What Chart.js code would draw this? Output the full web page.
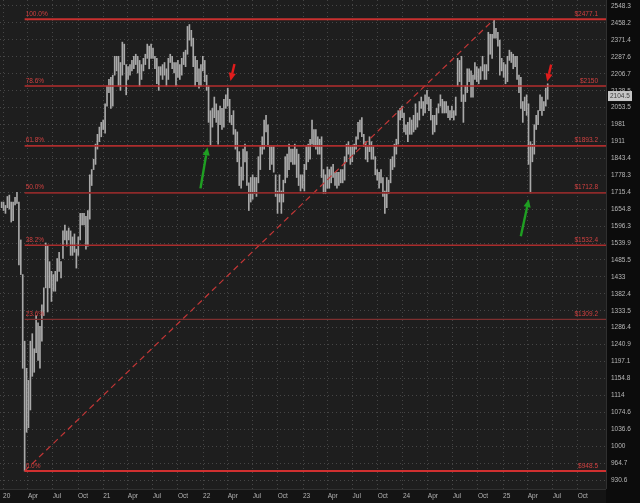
<!DOCTYPE html>
<html lang="en">
<head>
<meta charset="UTF-8" />
<title>Weekly bars with Fibonacci retracement</title>
<script src="https://cdn.jsdelivr.net/npm/chart.js@4.4.1/dist/chart.umd.min.js"></script>
<style>
  html, body { margin: 0; padding: 0; background: #0e0e0e; }
</style>
</head>
<body>
<canvas id="priceChart" width="640" height="503"></canvas>
<script>
// one bar per week, the first one is the week ending 2019-12-27
const firstFriday = '2019-12-27';

const weekHigh = [
  1680,
  // 2020
  1680, 1668, 1700, 1705, 1680, 1680, 1697, 1715, 1680, 1550, 1440, 1250, 1180,
  1150, 1250, 1270, 1230, 1320, 1300, 1290, 1350, 1400, 1540, 1530, 1480, 1450,
  1440, 1450, 1490, 1510, 1480, 1580, 1600, 1580, 1590, 1580, 1560, 1570, 1520,
  1560, 1640, 1640, 1640, 1630, 1650, 1780, 1800, 1840, 1900, 1940, 1970, 1990, 2000,
  // 2021
  2070, 2150, 2180, 2190, 2200, 2290, 2290, 2290, 2260, 2360, 2350, 2250, 2240,
  2250, 2270, 2290, 2300, 2290, 2270, 2250, 2280, 2300, 2350, 2340, 2350, 2330,
  2290, 2280, 2240, 2240, 2250, 2260, 2230, 2280, 2300, 2290, 2260, 2260, 2270,
  2250, 2280, 2310, 2320, 2440, 2450, 2420, 2380, 2290, 2270, 2230, 2250, 2290,
  // 2022
  2270, 2200, 2150, 2040, 2050, 2100, 2070, 2040, 2060, 2050, 2090, 2110, 2140,
  2090, 2020, 2040, 1960, 1950, 1870, 1810, 1880, 1900, 1870, 1750, 1770, 1780,
  1770, 1770, 1850, 1890, 1930, 2000, 2020, 1980, 1890, 1890, 1890, 1780, 1720,
  1780, 1720, 1760, 1850, 1860, 1900, 1880, 1880, 1900, 1880, 1860, 1780, 1780,
  // 2023
  1820, 1890, 1900, 1920, 2000, 1960, 1960, 1930, 1920, 1930, 1800, 1780, 1810,
  1800, 1810, 1820, 1790, 1790, 1790, 1800, 1800, 1850, 1900, 1910, 1890, 1890,
  1900, 1930, 1990, 2000, 2010, 1940, 1910, 1890, 1930, 1910, 1890, 1850, 1800,
  1790, 1800, 1770, 1720, 1770, 1760, 1840, 1850, 1900, 1920, 2040, 2050, 2060,
  // 2024
  2030, 1980, 1990, 2010, 2000, 2020, 2070, 2030, 2080, 2100, 2080, 2110, 2130,
  2100, 2090, 2020, 2020, 2050, 2070, 2110, 2090, 2080, 2080, 2060, 2040, 2060,
  2040, 2100, 2280, 2270, 2290, 2110, 2150, 2230, 2230, 2220, 2200, 2260, 2240,
  2230, 2240, 2290, 2250, 2250, 2410, 2400, 2400, 2477.1, 2430, 2410, 2370, 2280,
  // 2025
  2260, 2250, 2290, 2320, 2310, 2300, 2290, 2290, 2200, 2190, 2080, 2100, 2110,
  2070, 1910, 1900, 1980, 2020, 2040, 2110, 2100, 2080, 2140, 2160
];

const weekLow = [
  1660,
  // 2020
  1650, 1640, 1660, 1655, 1610, 1615, 1670, 1675, 1470, 1440, 1180, 948.5, 1030,
  1040, 1080, 1160, 1170, 1220, 1200, 1180, 1250, 1320, 1400, 1330, 1400, 1360,
  1390, 1390, 1420, 1450, 1430, 1490, 1550, 1530, 1550, 1500, 1500, 1510, 1460,
  1500, 1550, 1600, 1600, 1520, 1530, 1620, 1740, 1800, 1820, 1880, 1910, 1930, 1960,
  // 2021
  1945, 2060, 2120, 2050, 2060, 2200, 2220, 2150, 2130, 2200, 2250, 2110, 2180,
  2200, 2220, 2230, 2250, 2210, 2150, 2180, 2220, 2250, 2280, 2230, 2280, 2280,
  2230, 2160, 2130, 2200, 2180, 2200, 2150, 2180, 2260, 2230, 2210, 2150, 2190,
  2180, 2200, 2250, 2240, 2300, 2370, 2340, 2240, 2150, 2170, 2140, 2150, 2220,
  // 2022
  2170, 2130, 1990, 1895, 1970, 2010, 1990, 1900, 1980, 1960, 1970, 2050, 2060,
  1990, 1980, 1940, 1880, 1830, 1740, 1730, 1760, 1830, 1740, 1650, 1680, 1690,
  1710, 1700, 1750, 1800, 1860, 1880, 1950, 1890, 1800, 1820, 1790, 1700, 1640,
  1680, 1640, 1680, 1750, 1770, 1800, 1830, 1820, 1820, 1770, 1740, 1720, 1730,
  // 2023
  1720, 1800, 1830, 1840, 1900, 1890, 1880, 1860, 1860, 1770, 1710, 1710, 1730,
  1730, 1750, 1770, 1740, 1730, 1740, 1750, 1750, 1760, 1830, 1860, 1820, 1830,
  1860, 1880, 1920, 1950, 1930, 1890, 1840, 1830, 1870, 1840, 1840, 1780, 1760,
  1730, 1750, 1700, 1640, 1660, 1710, 1750, 1800, 1810, 1860, 1900, 2000, 2010,
  // 2024
  1950, 1940, 1910, 1940, 1940, 1950, 1960, 1970, 2000, 2050, 2020, 2030, 2070,
  2040, 2000, 1940, 1950, 1980, 2030, 2060, 2030, 2030, 2030, 2010, 2000, 2010,
  2000, 2020, 2150, 2170, 2080, 1990, 2080, 2120, 2170, 2100, 2100, 2180, 2170,
  2160, 2180, 2220, 2180, 2180, 2220, 2300, 2280, 2380, 2380, 2340, 2200, 2220,
  // 2025
  2190, 2160, 2170, 2270, 2260, 2230, 2240, 2180, 2120, 2050, 1990, 2040, 2020,
  1820, 1712.8, 1830, 1860, 1960, 1980, 2040, 2020, 2040, 2060, 2090
];

const yTickValues = [
  2548.3, 2458.2, 2371.4, 2287.6, 2206.7, 2128.5, 2053.5, 1981, 1911, 1843.4,
  1778.3, 1715.4, 1654.8, 1596.3, 1539.9, 1485.5, 1433, 1382.4, 1333.5, 1286.4,
  1240.9, 1197.1, 1154.8, 1114, 1074.6, 1036.6, 1000, 964.7, 930.6
];

const xTickDates = [
  '2020-01-01', '2020-04-01', '2020-07-01', '2020-10-01',
  '2021-01-01', '2021-04-01', '2021-07-01', '2021-10-01',
  '2022-01-01', '2022-04-01', '2022-07-01', '2022-10-01',
  '2023-01-01', '2023-04-01', '2023-07-01', '2023-10-01',
  '2024-01-01', '2024-04-01', '2024-07-01', '2024-10-01',
  '2025-01-01', '2025-04-01', '2025-07-01', '2025-10-01'
];
const xTickLabels = [
  '20', 'Apr', 'Jul', 'Oct', '21', 'Apr', 'Jul', 'Oct',
  '22', 'Apr', 'Jul', 'Oct', '23', 'Apr', 'Jul', 'Oct',
  '24', 'Apr', 'Jul', 'Oct', '25', 'Apr', 'Jul', 'Oct'
];

const fibLabels = ['100.0%', '78.6%', '61.8%', '50.0%', '38.2%', '23.6%', '0.0%'];
const fibLevels = [2477.1, 2150, 1893.2, 1712.8, 1532.4, 1309.2, 948.5];

const swingLowDate = '2020-03-20';
const swingHighDate = '2024-11-29';
const lastPrice = 2104.5;

// arrow tips (date, price); tail offsets are in pixels
const arrows = [
  { date: '2022-04-11', price: 2173, color: '#e01c1c', dx: 4, dy: -17 },
  { date: '2025-06-11', price: 2170, color: '#e01c1c', dx: 4, dy: -17 },
  { date: '2022-01-17', price: 1887, color: '#1f9f22', dx: -7, dy: 41 },
  { date: '2025-04-05', price: 1690, color: '#1f9f22', dx: -8, dy: 37 }
];

const fibColors = ['#c8302f', '#b52e2e', '#ad2d2d', '#8e2a2a', '#a82c2c', '#7e3030', '#d03030'];
const fibWidths = [2, 1.6, 1.6, 1.8, 1.4, 1.3, 2];

const DAY = 86400000;
const T0 = Date.UTC(2020, 0, 1);
function dayNum(iso) {
  return (Date.parse(iso + 'T00:00:00Z') - T0) / DAY;
}

const X_MIN = -11, X_MAX = 2203;
const firstDay = dayNum(firstFriday);
const bars = weekHigh.map((h, i) => ({ x: firstDay + 7 * i, y: [weekLow[i], h] }));
const lowDay = dayNum(swingLowDate);
const highDay = dayNum(swingHighDate);

const fibSets = fibLevels.map((lvl, i) => ({
  type: 'line',
  data: [{ x: lowDay, y: lvl }, { x: X_MAX, y: lvl }],
  borderColor: fibColors[i],
  borderWidth: fibWidths[i],
  pointRadius: 0,
  order: 0
}));

const tickFont = { family: 'Liberation Sans', size: 6.5 };
const gridColor = 'rgba(120,120,120,0.45)';

const decor = {
  id: 'decor',
  beforeDraw(chart) {
    const { ctx, chartArea: a, width, height } = chart;
    ctx.save();
    ctx.fillStyle = '#0c0c0c';
    ctx.fillRect(0, 0, width, height);
    ctx.fillStyle = '#141414';
    ctx.fillRect(0, a.bottom, a.right, height - a.bottom);
    ctx.fillStyle = '#1e1e1e';
    ctx.fillRect(a.left, a.top, a.right - a.left, a.bottom - a.top);
    ctx.restore();
  },
  afterDatasetsDraw(chart) {
    const { ctx, chartArea: a, scales: { x, y } } = chart;
    ctx.save();
    // fib level captions
    ctx.font = '6.5px "Liberation Sans"';
    ctx.fillStyle = '#d04040';
    ctx.textBaseline = 'bottom';
    const xl = x.getPixelForValue(lowDay);
    fibLevels.forEach((lvl, i) => {
      const py = y.getPixelForValue(lvl);
      ctx.textAlign = 'left';
      ctx.fillText(fibLabels[i], xl + 1, py - 2);
      ctx.textAlign = 'right';
      ctx.fillText('$' + lvl, a.right - 8, py - 2);
    });
    // arrows
    arrows.forEach(ar => {
      const tx = x.getPixelForValue(dayNum(ar.date));
      const ty = y.getPixelForValue(ar.price);
      const sx = tx + ar.dx, sy = ty + ar.dy;
      const ang = Math.atan2(ty - sy, tx - sx);
      const head = 8, half = 3.6;
      const bx = tx - head * Math.cos(ang), by = ty - head * Math.sin(ang);
      ctx.strokeStyle = ar.color;
      ctx.fillStyle = ar.color;
      ctx.lineWidth = 2.4;
      ctx.beginPath();
      ctx.moveTo(sx, sy);
      ctx.lineTo(bx, by);
      ctx.stroke();
      ctx.beginPath();
      ctx.moveTo(tx, ty);
      ctx.lineTo(bx + half * Math.sin(ang), by - half * Math.cos(ang));
      ctx.lineTo(bx - half * Math.sin(ang), by + half * Math.cos(ang));
      ctx.closePath();
      ctx.fill();
    });
    ctx.restore();
  },
  afterDraw(chart) {
    const { ctx, chartArea: a, scales: { y } } = chart;
    ctx.save();
    ctx.strokeStyle = '#303030';
    ctx.lineWidth = 1;
    ctx.beginPath();
    ctx.moveTo(a.right + 0.5, 0);
    ctx.lineTo(a.right + 0.5, a.bottom);
    ctx.moveTo(0, a.bottom + 0.5);
    ctx.lineTo(a.right, a.bottom + 0.5);
    ctx.stroke();
    // last price tag
    const py = y.getPixelForValue(lastPrice);
    ctx.fillStyle = '#c6c6c6';
    ctx.fillRect(a.right + 2, py - 5, 24, 10);
    ctx.fillStyle = '#3a3a3a';
    ctx.font = '6.5px "Liberation Sans"';
    ctx.textAlign = 'left';
    ctx.textBaseline = 'middle';
    ctx.fillText(String(lastPrice), a.right + 4, py + 0.5);
    ctx.restore();
  }
};

new Chart(document.getElementById('priceChart'), {
  type: 'bar',
  data: {
    datasets: [
      ...fibSets,
      {
        type: 'line',
        data: [{ x: lowDay, y: 948.5 }, { x: highDay, y: 2477.1 }],
        borderColor: '#c23636',
        borderWidth: 1.2,
        borderDash: [6, 4],
        pointRadius: 0,
        order: 1
      },
      {
        type: 'bar',
        data: bars,
        backgroundColor: '#a9a9a9',
        borderWidth: 0,
        barThickness: 1,
        order: 2
      }
    ]
  },
  options: {
    responsive: false,
    animation: false,
    layout: { padding: 0 },
    plugins: { legend: { display: false }, tooltip: { enabled: false } },
    scales: {
      x: {
        type: 'linear',
        min: X_MIN,
        max: X_MAX,
        offset: false,
        afterBuildTicks: s => { s.ticks = xTickDates.map(d => ({ value: dayNum(d) })); },
        afterFit: s => { s.height = 14; s.paddingLeft = 0; s.paddingRight = 0; },
        grid: { offset: false, color: gridColor, drawTicks: false },
        border: { display: false, dash: [1, 3] },
        ticks: {
          align: 'start', maxRotation: 0, autoSkip: false, padding: 3,
          color: '#b4b4b4', font: tickFont,
          callback: (v, i) => xTickLabels[i]
        }
      },
      y: {
        type: 'logarithmic',
        position: 'right',
        min: 913,
        max: 2581,
        beginAtZero: false,
        afterBuildTicks: s => { s.ticks = yTickValues.map(v => ({ value: v })); },
        afterFit: s => { s.width = 34; s.paddingTop = 0; s.paddingBottom = 0; },
        grid: { color: gridColor, drawTicks: false },
        border: { display: false, dash: [1, 3] },
        ticks: {
          autoSkip: false, padding: 5,
          color: '#b7b7b7', font: tickFont,
          callback: v => String(v)
        }
      }
    }
  },
  plugins: [decor]
});
</script>
</body>
</html>
